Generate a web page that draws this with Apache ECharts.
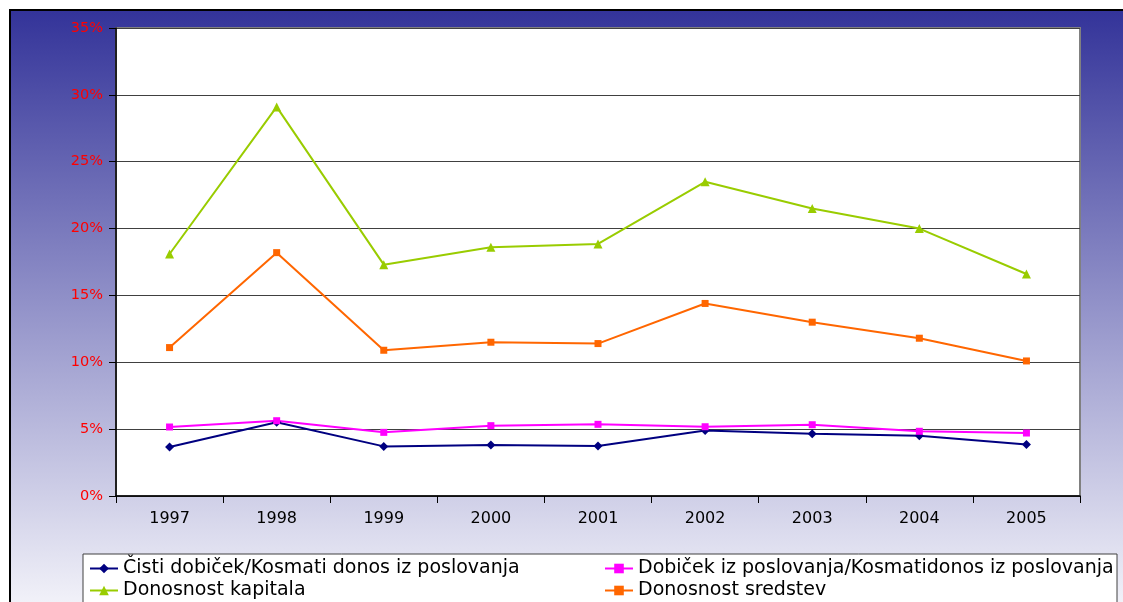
<!DOCTYPE html>
<html>
<head>
<meta charset="utf-8">
<script src="https://cdn.jsdelivr.net/npm/echarts@6/dist/echarts.min.js"></script>
<style>
html,body{margin:0;padding:0;background:#fff;}
#c{width:1123px;height:602px;}
</style>
</head>
<body>
<div id="c"></div>
<script>
const categories = ['1997','1998','1999','2000','2001','2002','2003','2004','2005'];
const seriesNames = [
  'Čisti dobiček/Kosmati donos iz poslovanja',
  'Dobiček iz poslovanja/Kosmatidonos iz poslovanja',
  'Donosnost kapitala',
  'Donosnost sredstev'
];
const cistiDobicek = [3.66, 5.51, 3.71, 3.81, 3.74, 4.89, 4.66, 4.51, 3.86];
const dobicekPoslovanja = [5.16, 5.63, 4.76, 5.26, 5.36, 5.18, 5.33, 4.84, 4.71];
const donosnostKapitala = [18.1, 29.1, 17.3, 18.6, 18.85, 23.5, 21.5, 20.0, 16.6];
const donosnostSredstev = [11.1, 18.2, 10.9, 11.5, 11.4, 14.4, 13.0, 11.8, 10.1];

const chart = echarts.init(document.getElementById('c'), null, {renderer:'canvas'});
const font = 'DejaVu Sans, Liberation Sans, Arial, sans-serif';
function mk(name, data, color, symbol, size){
  return {
    name: name, type: 'line', data: data,
    symbol: symbol, symbolSize: size,
    lineStyle: {color: color, width: 2},
    itemStyle: {color: color},
    emphasis: {disabled: true},
    animation: false
  };
}
const legendCommon = {orient:'vertical', top:559, padding:0, itemWidth:28, itemHeight:12, itemGap:3,
  textStyle:{fontSize:19, color:'#000', fontFamily:font}};
chart.setOption({
  animation: false,
  textStyle: {fontFamily: font},
  graphic: [
    {type:'rect', z:-10, silent:true, shape:{x:10,y:10,width:1125,height:600},
     style:{fill:new echarts.graphic.LinearGradient(0,0,0,1,[{offset:0,color:'#333399'},{offset:1,color:'#f4f4fa'}]), stroke:'#000', lineWidth:2}},
    {type:'rect', z:-5, silent:true, shape:{x:83,y:554,width:1034,height:60},
     style:{fill:'#ffffff', stroke:'#404040', lineWidth:1}}
  ],
  grid: {left:116, right:43, top:28, bottom:106, show:true, backgroundColor:'#ffffff', borderColor:'#808080', borderWidth:2},
  legend: [
    Object.assign({left:89, data:[seriesNames[0], seriesNames[2]]}, legendCommon),
    Object.assign({left:604, data:[seriesNames[1], seriesNames[3]]}, legendCommon)
  ],
  xAxis: {
    type:'category', data: categories, boundaryGap:true,
    axisLine:{show:true, lineStyle:{color:'#000', width:1.5}},
    axisTick:{show:true, interval:0, length:7, lineStyle:{color:'#000'}},
    axisLabel:{color:'#000', fontSize:16, margin:15, fontFamily:font},
    splitLine:{show:false}
  },
  yAxis: {
    type:'value', min:0, max:35, interval:5,
    axisLine:{show:true, lineStyle:{color:'#000', width:1.5}},
    axisTick:{show:true, length:7, lineStyle:{color:'#000'}},
    axisLabel:{color:'#ff0000', fontSize:14.5, margin:13, formatter:'{value}%', fontFamily:font},
    splitLine:{show:true, lineStyle:{color:'#404040', width:1}}
  },
  series: [
    mk(seriesNames[0], cistiDobicek, '#000080', 'diamond', 9),
    mk(seriesNames[1], dobicekPoslovanja, '#ff00ff', 'rect', 7),
    mk(seriesNames[2], donosnostKapitala, '#99cc00', 'triangle', 9),
    mk(seriesNames[3], donosnostSredstev, '#ff6600', 'rect', 7)
  ]
});
</script>
</body>
</html>
